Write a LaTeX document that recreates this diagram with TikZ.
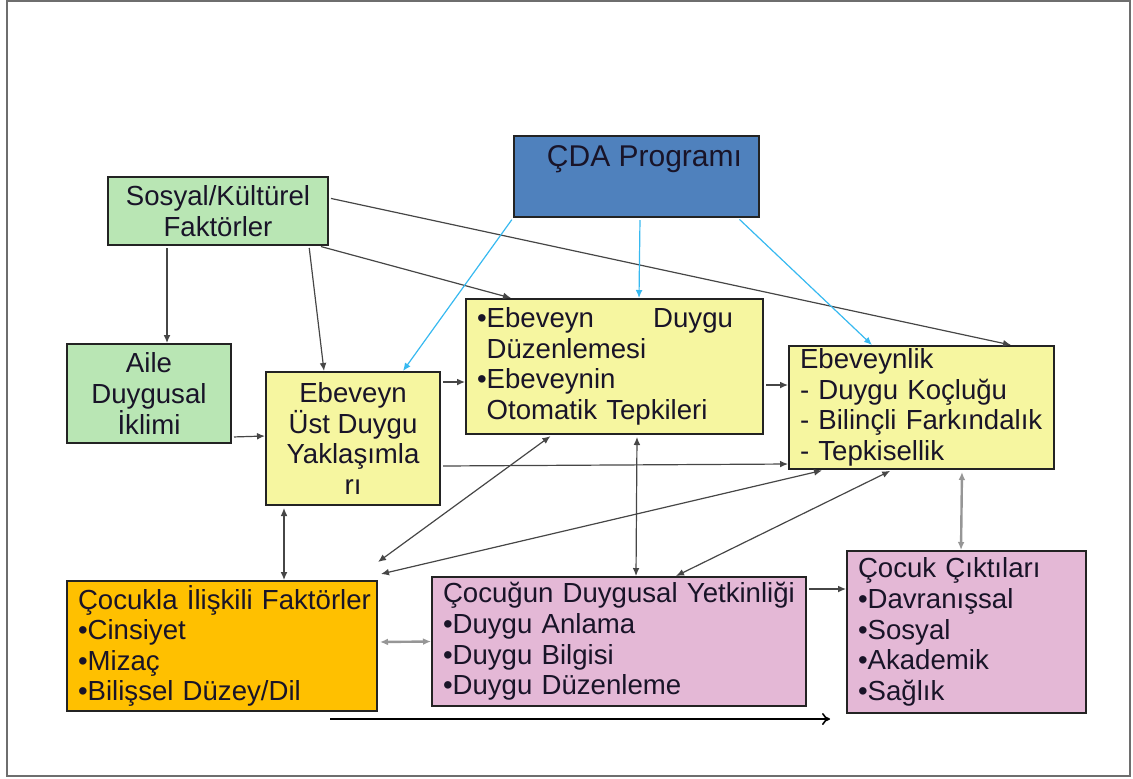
\documentclass[tikz,border=0pt]{standalone}
\usepackage{fontspec}
\setmainfont{Liberation Sans}
\usetikzlibrary{arrows.meta, positioning, calc}
\definecolor{sgreen} {RGB}{185,230,180}
\definecolor{pblue}  {RGB}{79,129,189}
\definecolor{pyellow}{RGB}{246,246,160}
\definecolor{corange}{RGB}{255,192,0}
\definecolor{cpink}  {RGB}{228,184,214}
\definecolor{boxline}{RGB}{35,35,35}
\definecolor{txt}    {RGB}{25,20,40}
\definecolor{agray}  {RGB}{70,70,70}
\definecolor{lgray}  {RGB}{150,150,150}
\definecolor{lblue}  {RGB}{55,185,240}
\definecolor{fgray}  {RGB}{110,110,110}

\tikzset{
  box/.style={draw=boxline, line width=1pt, inner xsep=5.5pt, inner ysep=0pt,
              text=txt, font=\fontsize{13.8}{15.3}\selectfont},
  link/.style={draw=agray, line width=0.6pt, shorten <=1pt,
               -{Latex[length=4pt,width=3.4pt]}},
  dlink/.style={link, {Latex[length=4pt,width=3.4pt]}-{Latex[length=4pt,width=3.4pt]}},
  glink/.style={dlink, draw=lgray, line width=1.2pt},
  blink/.style={link, draw=lblue},
}

\begin{document}
\begin{tikzpicture}[x=0.5pt, y=-0.5pt]
  \useasboundingbox (0,0) rectangle (1133,778);
  \draw[fgray, line width=1pt] (7,1) rectangle (1130,776);

  % top row
  \node[box, fill=sgreen, minimum width=110pt, minimum height=34pt, align=center]
    (sosyal) at (218,211) {Sosyal/Kültürel\\Faktörler};
  \node[box, fill=pblue, minimum width=122.5pt, minimum height=40.5pt, align=center,
        font=\fontsize{15}{17}\selectfont]
    (cda) at (636.5,176.5) {\hspace*{8pt}ÇDA Programı\\[3pt]~};

  % parent level
  \node[box, fill=sgreen, minimum width=82pt, minimum height=49.5pt, align=center]
    (aile) at (149,393.5) {Aile\\Duygusal\\İklimi};
  \node[box, fill=pyellow, minimum width=87pt, minimum height=66.5pt, align=center]
    (ust) at (353,438.5) {Ebeveyn\\Üst Duygu\\Yaklaşımla\\rı};
  \node[box, fill=pyellow, minimum width=148.5pt, minimum height=67.5pt,
        text width=137.5pt, align=left]
    (duzen) at (614.5,366.5)
    {\makebox[128pt][l]{•Ebeveyn\hfill Duygu}\\\phantom{•}Düzenlemesi\\
     •Ebeveynin\\\phantom{•}Otomatik Tepkileri};
  \node[box, fill=pyellow, minimum width=132.5pt, minimum height=61.5pt,
        text width=121.5pt, align=left]
    (ebeveynlik) at (921.5,407.5)
    {Ebeveynlik\\- Duygu Koçluğu\\- Bilinçli Farkındalık\\- Tepkisellik};

  % child level
  \node[box, fill=corange, minimum width=155pt, minimum height=65pt,
        text width=144pt, align=left]
    (cocukla) at (222,646)
    {\mbox{Çocukla İlişkili Faktörler}\\•Cinsiyet\\•Mizaç\\•Bilişsel Düzey/Dil};
  \node[box, fill=cpink, minimum width=187pt, minimum height=64.5pt,
        text width=176pt, align=left]
    (yetkinlik) at (619,641.5)
    {\mbox{Çocuğun Duygusal Yetkinliği}\\•Duygu Anlama\\•Duygu Bilgisi\\•Duygu Düzenleme};
  \node[box, fill=cpink, minimum width=119.5pt, minimum height=81pt,
        text width=108.5pt, align=left]
    (cikti) at (966.5,632)
    {Çocuk Çıktıları\\•Davranışsal\\•Sosyal\\•Akademik\\•Sağlık};

  % influences from the top
  \draw[link] ([xshift=30pt]sosyal.south west) -- ([xshift=50.5pt]aile.north west);
  \draw[link] ([xshift=-10pt]sosyal.south east) -- ([xshift=29.5pt]ust.north west);
  \draw[link] ([xshift=-5pt]sosyal.south east) -- ([xshift=23pt]duzen.north west);
  \draw[link] ([yshift=6.5pt]sosyal.east) -- ([xshift=111.5pt]ebeveynlik.north west);
  \draw[blink] (cda.south west) -- ([xshift=-19pt]ust.north east);
  \draw[blink] ([xshift=1.75pt]cda.south) -- ([xshift=87pt]duzen.north west);
  \draw[blink] ([xshift=-11pt]cda.south east) -- ([xshift=42pt]ebeveynlik.north west);

  % parent level links
  \draw[link] ([yshift=3.5pt]aile.south east) -- ([yshift=1.25pt]ust.west);
  \draw[link] ([yshift=-5.5pt]ust.north east) -- ([yshift=-42pt]duzen.north west);
  \draw[link] ([yshift=-9.25pt]duzen.east) -- ([yshift=11.25pt]ebeveynlik.west);
  \draw[link] ([yshift=-13.75pt]ust.east) -- ([yshift=3pt]ebeveynlik.south west);

  % parent <-> child
  \draw[dlink] ([xshift=9.5pt]ust.south west) -- ([xshift=109pt]cocukla.north west);
  \draw[dlink] ([xshift=43.5pt]duzen.south west) -- ([yshift=9pt]cocukla.north east);
  \draw[dlink] ([xshift=18pt]ebeveynlik.south west) -- ([shift={(1.5pt,3pt)}]cocukla.north east);
  \draw[dlink] ([xshift=52pt]ebeveynlik.south west) -- ([xshift=122.5pt]yetkinlik.north west);
  \draw[dlink] ([xshift=11.25pt]duzen.south) -- ([xshift=102.5pt]yetkinlik.north west);
  \draw[glink] ([xshift=20.25pt]ebeveynlik.south) -- ([xshift=57.5pt]cikti.north west);

  % child level links
  \draw[glink] ([yshift=2pt]cocukla.east) -- (yetkinlik.west);
  \draw[link] ([yshift=-6.5pt]yetkinlik.north east) -- ([yshift=-19.5pt]cikti.north west);

  \coordinate (timeL) at (330,719);
  \coordinate (timeR) at (830,719);
  \draw[black, line width=0.8pt, -{To[length=4pt,width=6pt]}] (timeL) -- (timeR);
\end{tikzpicture}
\end{document}
